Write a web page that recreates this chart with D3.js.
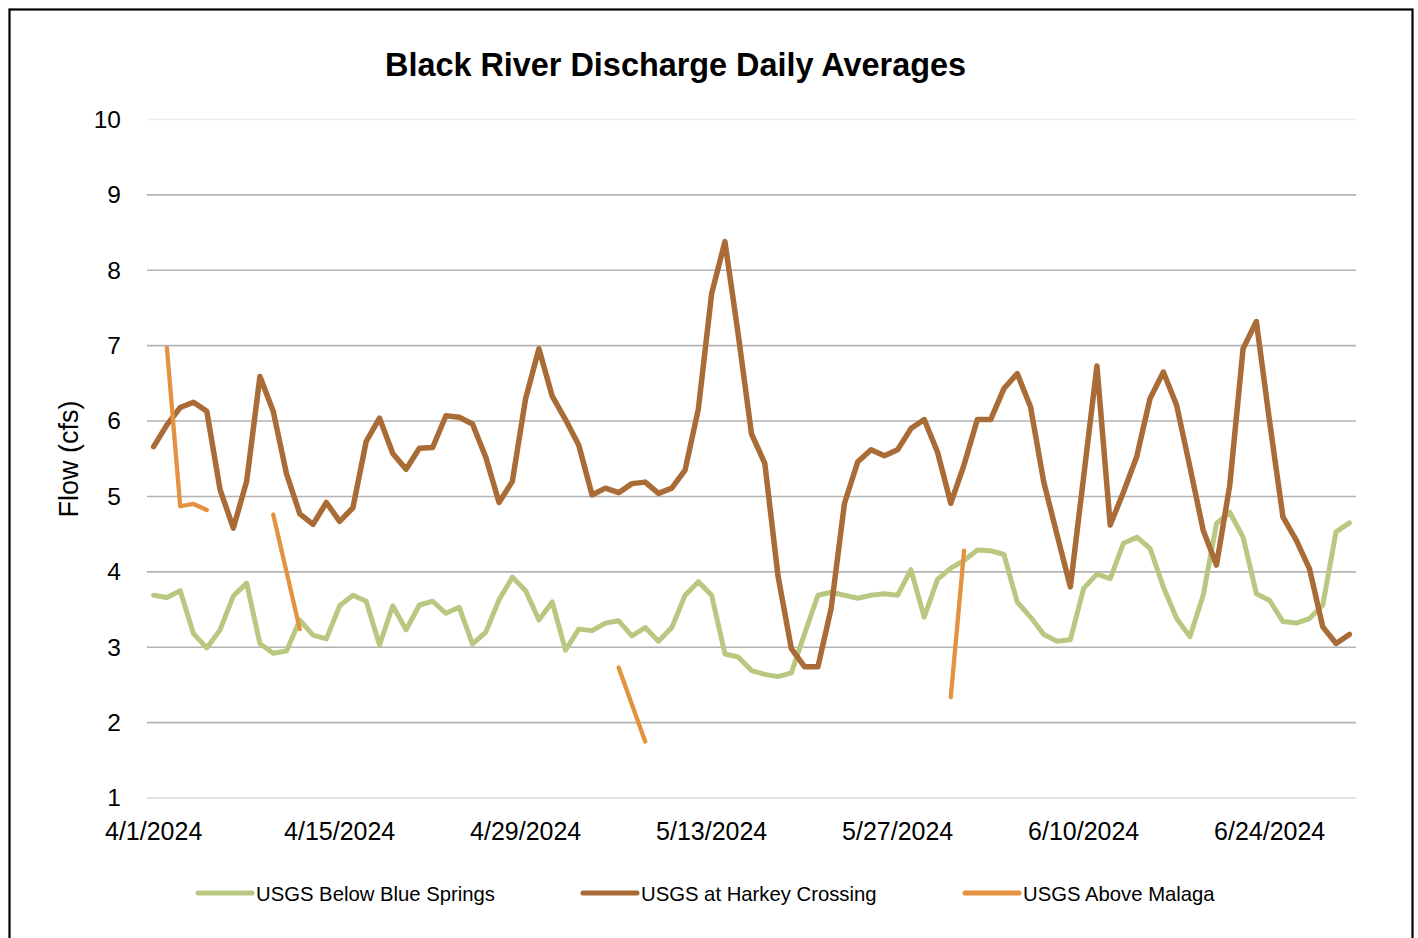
<!DOCTYPE html>
<html>
<head>
<meta charset="utf-8">
<title>Black River Discharge Daily Averages</title>
<script src="https://cdn.jsdelivr.net/npm/d3@7"></script>
<style>
  html, body { margin: 0; padding: 0; background: #ffffff; }
  svg { display: block; }
</style>
</head>
<body>
<svg id="chart" width="1418" height="938"></svg>
<script>
// Daily average discharge (cfs), 4/1/2024 – 6/30/2024
const startDate = new Date(2024, 3, 1);
const dayCount = 91;

const blueSprings = [
  3.69, 3.66, 3.75, 3.18, 2.99, 3.23, 3.68, 3.85, 3.05, 2.92,
  2.95, 3.36, 3.16, 3.11, 3.55, 3.69, 3.61, 3.03, 3.55, 3.23,
  3.56, 3.61, 3.45, 3.53, 3.04, 3.20, 3.63, 3.93, 3.75, 3.36,
  3.60, 2.96, 3.24, 3.22, 3.32, 3.35, 3.15, 3.26, 3.08, 3.26,
  3.69, 3.87, 3.69, 2.91, 2.87, 2.69, 2.64, 2.61, 2.66, 3.18,
  3.69, 3.73, 3.69, 3.65, 3.69, 3.71, 3.69, 4.03, 3.40, 3.90,
  4.05, 4.15, 4.29, 4.28, 4.23, 3.60, 3.40, 3.17, 3.08, 3.10,
  3.78, 3.97, 3.91, 4.38, 4.46, 4.31, 3.80, 3.38, 3.14, 3.69,
  4.64, 4.79, 4.46, 3.71, 3.62, 3.34, 3.32, 3.38, 3.56, 4.53,
  4.65
];

const harkeyCrossing = [
  5.66, 5.95, 6.18, 6.25, 6.13, 5.09, 4.58, 5.20, 6.59, 6.13,
  5.30, 4.77, 4.63, 4.92, 4.67, 4.85, 5.73, 6.04, 5.57, 5.36,
  5.64, 5.65, 6.07, 6.05, 5.96, 5.52, 4.92, 5.20, 6.30, 6.96,
  6.33, 6.02, 5.68, 5.02, 5.11, 5.05, 5.17, 5.19, 5.04, 5.11,
  5.35, 6.16, 7.69, 8.38, 7.15, 5.83, 5.44, 3.94, 2.98, 2.74,
  2.74, 3.52, 4.91, 5.46, 5.62, 5.54, 5.62, 5.90, 6.02, 5.59,
  4.91, 5.42, 6.02, 6.02, 6.43, 6.63, 6.19, 5.19, 4.49, 3.80,
  5.26, 6.73, 4.62, 5.06, 5.53, 6.30, 6.65, 6.21, 5.39, 4.55,
  4.09, 5.15, 6.96, 7.32, 5.99, 4.73, 4.42, 4.04, 3.27, 3.05,
  3.17
];

// Gauge with incomplete record; null = no reading that day
const aboveMalaga = [
  null, 6.97, 4.87, 4.90, 4.82, null, null, null, null, 4.76,
  4.00, 3.24, null, null, null, null, null, null, null, null,
  null, null, null, null, null, null, null, null, null, null,
  null, null, null, null, null, 2.73, 2.24, 1.75, null, null,
  null, null, null, null, null, null, null, null, null, null,
  null, null, null, null, null, null, null, null, null, null,
  2.34, 4.28, null, null, null, null, null, null, null, null,
  null, null, null, null, null, null, null, null, null, null,
  null, null, null, null, null, null, null, null, null, null,
  null
];

const yTicks = [1, 2, 3, 4, 5, 6, 7, 8, 9, 10];
const xTickEvery = 14;

const seriesNames = ["USGS Below Blue Springs", "USGS at Harkey Crossing", "USGS Above Malaga"];
const seriesColors = ["#b8c880", "#a96c37", "#e3923f"];
const seriesWidths = [5, 5.5, 4.3];

const days = d3.range(dayCount).map(i => d3.timeDay.offset(startDate, i));
const fmt = d => `${d.getMonth() + 1}/${d.getDate()}/${d.getFullYear()}`;

const svg = d3.select("#chart");
const plot = { left: 147, right: 1356, top: 119.5, bottom: 798 };

// Outer frame
svg.append("rect")
  .attr("x", 9.5).attr("y", 9.5)
  .attr("width", 1403).attr("height", 960)
  .attr("fill", "#ffffff")
  .attr("stroke", "#000000").attr("stroke-width", 2.2);

const x = d3.scaleBand()
  .domain(days.map(d => +d))
  .range([plot.left, plot.right])
  .paddingInner(0).paddingOuter(0);
const xc = d => x(+d) + x.bandwidth() / 2;

const y = d3.scaleLinear().domain([1, 10]).range([plot.bottom, plot.top]);

// Horizontal gridlines
svg.append("g")
  .selectAll("line")
  .data(yTicks)
  .join("line")
  .attr("x1", plot.left).attr("x2", plot.right)
  .attr("y1", d => y(d)).attr("y2", d => y(d))
  .attr("stroke", d => d === 10 ? "#eeeeee" : (d === 1 ? "#d9d9d9" : "#b3b3b3"))
  .attr("stroke-width", 1.6);

// Y axis labels
const yAxis = d3.axisLeft(y).tickValues(yTicks).tickSize(0).tickPadding(26).tickFormat(d3.format("d"));
const yg = svg.append("g").attr("transform", `translate(${plot.left},0)`).call(yAxis);
yg.select(".domain").remove();
yg.selectAll("text")
  .attr("font-family", "'Liberation Sans', Arial, sans-serif")
  .attr("font-size", 24.5)
  .attr("fill", "#000000");

// X axis labels
const xAxis = d3.axisBottom(x)
  .tickValues(days.filter((d, i) => i % xTickEvery === 0).map(d => +d))
  .tickSize(0).tickPadding(24)
  .tickFormat(v => fmt(new Date(v)));
const xg = svg.append("g").attr("transform", `translate(0,${plot.bottom})`).call(xAxis);
xg.select(".domain").remove();
xg.selectAll("text")
  .attr("font-family", "'Liberation Sans', Arial, sans-serif")
  .attr("font-size", 25)
  .attr("fill", "#000000");

// Series lines
const allSeries = [blueSprings, harkeyCrossing, aboveMalaga];
const line = d3.line()
  .defined(d => d.v !== null)
  .x(d => xc(d.date))
  .y(d => y(d.v));

allSeries.forEach((vals, s) => {
  const pts = vals.map((v, i) => ({ date: days[i], v }));
  svg.append("path")
    .datum(pts)
    .attr("d", line)
    .attr("fill", "none")
    .attr("stroke", seriesColors[s])
    .attr("stroke-width", seriesWidths[s])
    .attr("stroke-linejoin", "round")
    .attr("stroke-linecap", "round");
});

// Title
svg.append("text")
  .attr("x", 675.5).attr("y", 76)
  .attr("text-anchor", "middle")
  .attr("font-family", "'Liberation Sans', Arial, sans-serif")
  .attr("font-weight", "bold")
  .attr("font-size", 32.4)
  .attr("fill", "#000000")
  .text("Black River Discharge Daily Averages");

// Y axis title
svg.append("text")
  .attr("transform", "translate(78,459) rotate(-90)")
  .attr("text-anchor", "middle")
  .attr("font-family", "'Liberation Sans', Arial, sans-serif")
  .attr("font-size", 27)
  .attr("fill", "#000000")
  .text("Flow (cfs)");

// Legend
const legendX = [198, 583, 965];
const legend = svg.append("g");
seriesNames.forEach((name, s) => {
  const g = legend.append("g").attr("transform", `translate(${legendX[s]},893)`);
  g.append("line")
    .attr("x1", 0).attr("x2", 54).attr("y1", 0).attr("y2", 0)
    .attr("stroke", seriesColors[s]).attr("stroke-width", 5)
    .attr("stroke-linecap", "round");
  g.append("text")
    .attr("x", 58).attr("y", 8)
    .attr("font-family", "'Liberation Sans', Arial, sans-serif")
    .attr("font-size", 20.3)
    .attr("fill", "#000000")
    .text(name);
});
</script>
</body>
</html>
